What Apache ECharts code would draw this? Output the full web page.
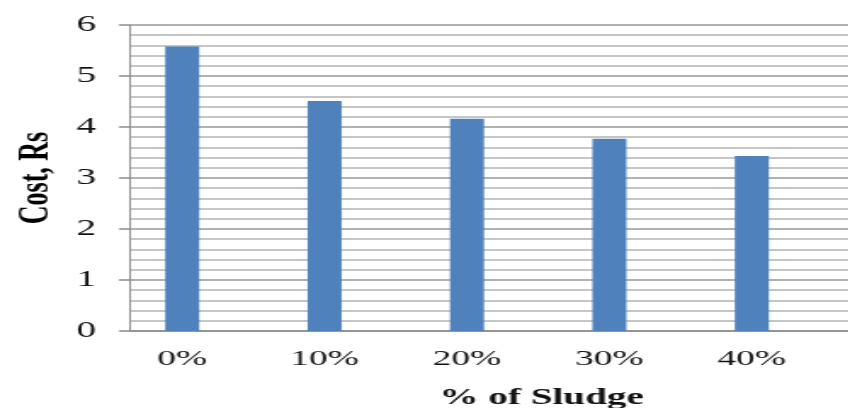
<!DOCTYPE html>
<html>
<head>
<meta charset="utf-8">
<script src="https://cdn.jsdelivr.net/npm/echarts@6/dist/echarts.min.js"></script>
<style>
  html, body { margin: 0; padding: 0; background: #fff; overflow: hidden; }
  /* the chart is laid out narrow and stretched sideways, giving the wide serif lettering */
  #chart { width: 499px; height: 408px; transform: scaleX(1.7); transform-origin: 0 0; }
</style>
</head>
<body>
<div id="chart"></div>
<script>
// Cost of a unit versus sludge replacement
const categories = ['0%', '10%', '20%', '30%', '40%'];
const costValues = [5.58, 4.51, 4.16, 3.77, 3.43];
const yTicks = [0, 1, 2, 3, 4, 5, 6];

const xTitle = '% of Sludge';
const yTitle = 'Cost, Rs';

const serif = '"Liberation Serif", "DejaVu Serif", serif';
const chart = echarts.init(document.getElementById('chart'), null, { renderer: 'canvas' });

const yMin = yTicks[0];
const yMax = yTicks[yTicks.length - 1];

chart.setOption({
  animation: false,
  backgroundColor: '#ffffff',
  grid: [
    // bars
    { left: 65.3, right: 14.9, top: 25, bottom: 77, containLabel: false },
    // ruled background, running to the right edge
    { left: 65.3, right: 0, top: 25, bottom: 77, containLabel: false }
  ],
  xAxis: [
    {
      gridIndex: 0,
      type: 'category',
      data: categories,
      axisLine: { show: false },
      axisTick: { show: false },
      axisLabel: {
        margin: 17,
        fontFamily: serif,
        fontSize: 22,
        color: '#111'
      }
    },
    {
      gridIndex: 1,
      type: 'value',
      min: 0, max: 1,
      axisLine: { show: true, lineStyle: { color: '#8c8c8c', width: 1.5 } },
      axisTick: { show: false },
      axisLabel: { show: false },
      splitLine: { show: false }
    }
  ],
  yAxis: [
    {
      gridIndex: 0,
      type: 'value',
      min: yMin, max: yMax, interval: 1,
      show: false
    },
    {
      gridIndex: 1,
      type: 'value',
      min: yMin, max: yMax, interval: 1,
      name: yTitle,
      nameLocation: 'middle',
      nameGap: 41,
      nameTextStyle: {
        fontFamily: serif,
        fontWeight: 'bold',
        fontSize: 26,
        color: '#000'
      },
      axisLine: { show: true, lineStyle: { color: '#8c8c8c', width: 1 } },
      axisTick: { show: true, length: 6.5, lineStyle: { color: '#8c8c8c', width: 1.5 } },
      axisLabel: {
        margin: 20,
        fontFamily: serif,
        fontSize: 23,
        color: '#111',
        formatter: v => String(v)
      },
      splitLine: { show: true, lineStyle: { color: '#999999', width: 1.5 } },
      minorTick: { show: false, splitNumber: 5 },
      minorSplitLine: { show: true, lineStyle: { color: '#b4b4b4', width: 1.5 } }
    }
  ],
  graphic: [
    {
      type: 'text',
      left: 318.5 - 60,
      top: 387,
      style: {
        text: xTitle,
        font: 'bold 23px ' + serif,
        fill: '#111'
      }
    }
  ],
  series: [
    {
      type: 'bar',
      xAxisIndex: 0,
      yAxisIndex: 0,
      data: costValues,
      barWidth: 20,
      itemStyle: { color: '#4f81bd' },
      z: 3
    }
  ]
});
</script>
</body>
</html>
